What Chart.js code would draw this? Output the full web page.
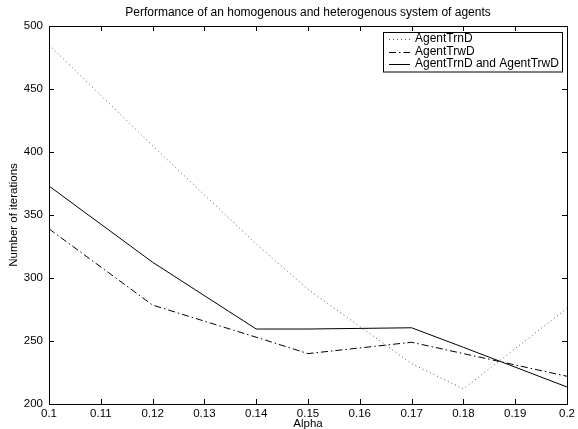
<!DOCTYPE html>
<html>
<head>
<meta charset="utf-8">
<script src="https://cdn.jsdelivr.net/npm/chart.js@4/dist/chart.umd.min.js"></script>
<style>
  html, body { margin: 0; padding: 0; background: #fff; }
  #wrap { width: 578px; height: 429px; position: relative; }
</style>
</head>
<body>
<div id="wrap"><canvas id="c" width="578" height="429"></canvas></div>
<script>
// ---- data ----
const alphas = [0.10, 0.12, 0.14, 0.15, 0.17, 0.18, 0.20];
const agentTrnD = [485, 405, 327, 291, 232, 212, 276];
const agentTrwD = [339, 278.5, 253, 240, 249, 240, 222];
const agentBoth = [373, 312.5, 259.5, 259.5, 260.5, 245, 213.5];
const seriesLabels = ['AgentTrnD', 'AgentTrwD', 'AgentTrnD and AgentTrwD'];
const xTicks = [0.1, 0.11, 0.12, 0.13, 0.14, 0.15, 0.16, 0.17, 0.18, 0.19, 0.2];
const yTicks = [200, 250, 300, 350, 400, 450, 500];
const chartTitle = 'Performance of an homogenous and heterogenous system of agents';
const xTitle = 'Alpha';
const yTitle = 'Number of iterations';

const FONT = 'Liberation Sans, Arial, Helvetica, sans-serif';
const toPts = (ys) => alphas.map((a, i) => ({ x: a, y: ys[i] }));

const framePlugin = {
  id: 'frame',
  afterDraw(chart) {
    const { ctx, chartArea: ca, scales } = chart;
    ctx.save();
    // title centred over the plot area
    ctx.fillStyle = '#000';
    ctx.font = '12px ' + FONT;
    ctx.textAlign = 'center';
    ctx.textBaseline = 'middle';
    ctx.fillText(chartTitle, (ca.left + ca.right) / 2, ca.top - 13);

    ctx.strokeStyle = '#000';
    ctx.lineWidth = 1;
    ctx.strokeRect(Math.round(ca.left) + 0.5, Math.round(ca.top) + 0.5,
      Math.round(ca.right - ca.left), Math.round(ca.bottom - ca.top));
    const L = 5;
    ctx.beginPath();
    scales.x.ticks.forEach(t => {
      const px = Math.round(scales.x.getPixelForValue(t.value)) + 0.5;
      ctx.moveTo(px, ca.bottom); ctx.lineTo(px, ca.bottom - L);
      ctx.moveTo(px, ca.top); ctx.lineTo(px, ca.top + L);
    });
    scales.y.ticks.forEach(t => {
      const py = Math.round(scales.y.getPixelForValue(t.value)) + 0.5;
      ctx.moveTo(ca.left, py); ctx.lineTo(ca.left + L, py);
      ctx.moveTo(ca.right, py); ctx.lineTo(ca.right - L, py);
    });
    ctx.stroke();

    // legend box
    ctx.font = '12px ' + FONT;
    const textW = Math.max(...chart.data.datasets.map(d => ctx.measureText(d.label).width));
    const right = Math.round(ca.right) - 5;
    const left = Math.round(right - (textW + 35));
    const top = Math.round(ca.top) + 6;
    const rowH = 12.5;
    const h = rowH * 3 + 2;
    ctx.fillStyle = '#fff';
    ctx.fillRect(left, top, right - left, h);
    ctx.strokeRect(left + 0.5, top + 0.5, right - left, h);
    chart.data.datasets.forEach((d, i) => {
      const y = top + 7 + i * rowH;
      ctx.beginPath();
      ctx.setLineDash(d.borderDash || []);
      ctx.strokeStyle = d.borderColor;
      ctx.lineWidth = d.borderWidth;
      ctx.moveTo(left + 6, Math.round(y) + 0.5);
      ctx.lineTo(left + 27, Math.round(y) + 0.5);
      ctx.stroke();
      ctx.setLineDash([]);
      ctx.fillStyle = '#000';
      ctx.textBaseline = 'middle';
      ctx.textAlign = 'left';
      ctx.fillText(d.label, left + 32, y);
    });
    ctx.restore();
  }
};

new Chart(document.getElementById('c'), {
  type: 'line',
  data: {
    datasets: [
      { label: seriesLabels[0], data: toPts(agentTrnD), borderColor: '#555', borderWidth: 1, borderDash: [1, 3], pointRadius: 0, tension: 0, fill: false },
      { label: seriesLabels[1], data: toPts(agentTrwD), borderColor: '#000', borderWidth: 1, borderDash: [7, 3, 1.5, 3], pointRadius: 0, tension: 0, fill: false },
      { label: seriesLabels[2], data: toPts(agentBoth), borderColor: '#000', borderWidth: 1, pointRadius: 0, tension: 0, fill: false }
    ]
  },
  options: {
    responsive: false,
    animation: false,
    layout: { padding: { left: 0, right: 10, top: 26, bottom: 0 } },
    plugins: {
      legend: { display: false },
      tooltip: { enabled: false },
      title: { display: false }
    },
    scales: {
      x: {
        type: 'linear', min: 0.1, max: 0.2,
        afterBuildTicks: s => { s.ticks = xTicks.map(v => ({ value: v })); },
        afterFit: s => { s.height = 25; },
        grid: { display: false, drawTicks: false },
        border: { display: false },
        ticks: {
          color: '#000', padding: 3, maxRotation: 0, autoSkip: false,
          font: { family: FONT, size: 11.5 },
          callback: v => String(Math.round(v * 100) / 100)
        },
        title: { display: true, text: xTitle, color: '#000', font: { family: FONT, size: 11.5 }, padding: { top: 0, bottom: -2 } }
      },
      y: {
        type: 'linear', min: 200, max: 500,
        afterBuildTicks: s => { s.ticks = yTicks.map(v => ({ value: v })); },
        afterFit: s => { s.width = 49; },
        grid: { display: false, drawTicks: false },
        border: { display: false },
        ticks: { color: '#000', padding: 6, font: { family: FONT, size: 11.5 } },
        title: { display: true, text: yTitle, color: '#000', font: { family: FONT, size: 11.5 }, padding: { top: 7, bottom: 0 } }
      }
    }
  },
  plugins: [framePlugin]
});
</script>
</body>
</html>
